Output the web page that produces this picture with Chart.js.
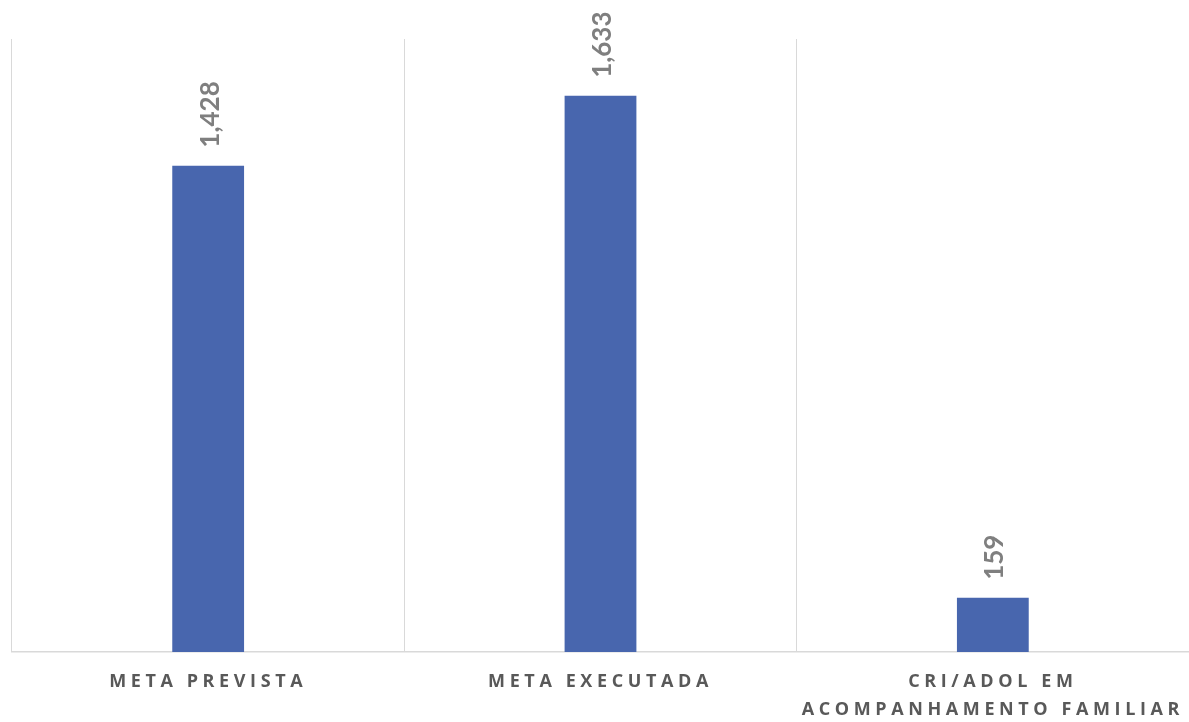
<!DOCTYPE html>
<html><head><meta charset="utf-8">
<script src="https://cdn.jsdelivr.net/npm/chart.js@4"></script>
<style>html,body{margin:0;padding:0;background:#fff;}#wrap{width:1189px;height:722px;position:relative;}</style>
</head><body><div id="wrap"><canvas id="c"></canvas></div>
<script>
const categories = [["META PREVISTA"], ["META EXECUTADA"], ["CRI/ADOL EM", "ACOMPANHAMENTO FAMILIAR"]];
const values = [1428, 1633, 159];
const yMax = 1800;

const spacing = {
  id: 'spacing',
  beforeLayout(chart){ chart.ctx.letterSpacing = '4.6px'; },
  beforeDraw(chart){ chart.ctx.letterSpacing = '4.6px'; },
  beforeDatasetsDraw(chart){ chart.ctx.letterSpacing = '0px'; }
};
const valueLabels = {
  id: 'valueLabels',
  afterDatasetsDraw(chart){
    const ctx = chart.ctx;
    const meta = chart.getDatasetMeta(0);
    ctx.save();
    ctx.letterSpacing = '0px';
    ctx.fillStyle = '#7f7f7f';
    ctx.font = 'bold 26px Lato';
    ctx.textAlign = 'left';
    ctx.textBaseline = 'alphabetic';
    meta.data.forEach((bar, i) => {
      ctx.save();
      ctx.translate(bar.x + 10.5, bar.y - 18);
      ctx.rotate(-Math.PI/2);
      ctx.fillText(values[i].toLocaleString('en-US'), 0, 0);
      ctx.restore();
    });
    ctx.restore();
  }
};

new Chart(document.getElementById('c'), {
  type: 'bar',
  data: { labels: categories, datasets: [{ data: values, backgroundColor: '#4866ae', barPercentage: 0.183, categoryPercentage: 1 }] },
  options: {
    responsive: true, maintainAspectRatio: false, animation: false,
    layout: { padding: { top: 39, left: 12, right: -2, bottom: -2 } },
    plugins: { legend: { display: false }, tooltip: { enabled: false } },
    scales: {
      x: {
        grid: { offset: true, drawTicks: true, tickLength: 16, tickColor: 'rgba(0,0,0,0)', color: (c) => c.index === 3 ? 'rgba(0,0,0,0)' : '#d9d9d9', lineWidth: 1 },
        border: { color: '#d9d9d9', width: 1.5 },
        ticks: { color: '#595959', padding: 0, font: { family: '"Open Sans"', size: 18, weight: 'bold', lineHeight: 1.556 }, maxRotation: 0, autoSkip: false }
      },
      y: { display: false, min: 0, max: yMax }
    }
  },
  plugins: [spacing, valueLabels]
});
</script></body></html>
